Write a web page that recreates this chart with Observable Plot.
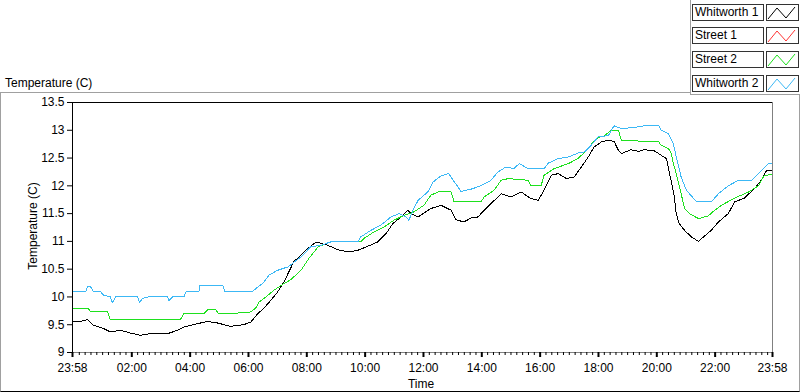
<!DOCTYPE html>
<html><head><meta charset="utf-8">
<script src="https://cdn.jsdelivr.net/npm/d3@7"></script>
<script src="https://cdn.jsdelivr.net/npm/@observablehq/plot@0.6"></script>
<style>
body{margin:0;background:#fff;font-family:"Liberation Sans",Arial,sans-serif;}
#wrap{position:relative;width:800px;height:392px;overflow:hidden;background:#fff;}
#wrap svg.chart{position:absolute;left:0;top:0;}
.ov{position:absolute;font-size:12px;color:#000;white-space:nowrap;line-height:14px;}
#panel{position:absolute;left:0;top:92px;width:798px;height:298px;border-top:1px solid #a0a0a0;border-left:1px solid #a0a0a0;border-right:1px solid #a0a0a0;border-bottom:1px solid #000;pointer-events:none;}
#legendBox{position:absolute;left:690px;top:0;width:109px;height:94px;border-left:1px solid #a0a0a0;border-bottom:1px solid #a0a0a0;background:#fff;}
.lgText{position:absolute;left:692px;width:68px;height:15px;border:1px solid #333;background:#fff;font-size:12px;line-height:15px;padding-left:2px;color:#000;}
.lgSw{position:absolute;left:766px;width:31px;height:15px;border:1px solid #333;background:#fff;}
</style></head><body><div id="wrap"></div><script>
// ---- data ----
const seriesNames = ["Whitworth 1", "Street 1", "Street 2", "Whitworth 2"];
const seriesColors = ["#000000", "#ff3434", "#1ee01e", "#3cb8f5"];

// minutes after 00:00 (start of record is 23:58 of the previous day = -2)
const w1Minutes = [-2,14,29,41,62,76,97,117,138,165,194,214,227,256,276,297,323,350,365,379,391,406,420,433,453,478,499,523,544,565,585,602,626,643,657,674,688,694,709,735,756,777,787,803,818,832,845,859,880,900,921,941,956,968,983,997,1014,1030,1045,1059,1071,1086,1100,1112,1121,1127,1147,1162,1174,1195,1209,1220,1224,1230,1236,1240,1246,1257,1271,1286,1296,1312,1327,1347,1360,1380,1401,1415,1426,1438];
const w1Temps = [9.55,9.56,9.59,9.49,9.43,9.37,9.40,9.35,9.31,9.35,9.34,9.40,9.46,9.52,9.56,9.53,9.47,9.50,9.55,9.70,9.79,9.94,10.09,10.27,10.63,10.84,10.99,10.93,10.85,10.81,10.84,10.90,10.99,11.14,11.32,11.44,11.56,11.50,11.44,11.59,11.65,11.56,11.39,11.35,11.42,11.44,11.56,11.68,11.86,11.80,11.89,11.77,11.74,11.92,12.19,12.22,12.13,12.16,12.34,12.52,12.70,12.79,12.82,12.80,12.64,12.58,12.65,12.62,12.65,12.63,12.55,12.49,12.31,12.07,11.80,11.50,11.32,11.20,11.08,11.00,11.08,11.20,11.35,11.50,11.71,11.78,11.95,12.10,12.28,12.28];

const s1Minutes = [];
const s1Temps = [];

const s2Minutes = [-2,31,35,70,76,220,227,268,276,293,297,338,365,375,381,400,412,433,447,468,484,503,523,529,591,597,618,639,659,680,700,721,735,750,777,783,838,845,865,880,894,935,941,962,968,989,1018,1038,1059,1069,1080,1092,1106,1121,1127,1204,1209,1224,1230,1234,1240,1250,1257,1267,1286,1306,1319,1333,1360,1389,1409,1421,1438];
const s2Temps = [9.79,9.79,9.73,9.73,9.59,9.59,9.70,9.70,9.77,9.77,9.71,9.71,9.73,9.80,9.90,10.03,10.12,10.24,10.31,10.48,10.69,10.90,10.97,10.99,10.99,11.05,11.17,11.26,11.38,11.47,11.53,11.65,11.83,11.89,11.89,11.71,11.71,11.80,11.92,12.10,12.13,12.10,12.00,12.00,12.19,12.31,12.40,12.49,12.67,12.79,12.87,12.90,13.00,13.00,12.82,12.79,12.73,12.67,12.58,12.40,12.22,11.86,11.59,11.50,11.41,11.46,11.56,11.65,11.78,11.89,12.00,12.19,12.20];

const w2Minutes = [-2,25,29,35,41,56,62,76,80,87,132,136,142,153,194,196,204,227,231,258,260,307,311,369,375,389,402,420,441,468,488,509,529,585,591,612,632,653,670,684,690,700,709,729,740,756,772,781,791,797,818,838,859,873,890,906,917,935,968,977,997,1018,1038,1051,1065,1080,1100,1112,1127,1154,1174,1204,1209,1224,1234,1240,1250,1261,1282,1312,1327,1347,1368,1395,1409,1430,1438];
const w2Temps = [10.09,10.09,10.19,10.19,10.09,10.09,10.03,10.00,9.90,10.00,10.00,9.90,9.97,10.00,10.00,9.93,10.00,10.00,10.09,10.09,10.21,10.21,10.10,10.10,10.15,10.24,10.39,10.48,10.54,10.72,10.90,10.93,10.99,10.99,11.08,11.20,11.29,11.44,11.50,11.44,11.38,11.59,11.74,11.89,12.07,12.18,12.22,12.10,11.98,11.90,11.94,12.00,12.10,12.25,12.34,12.31,12.40,12.31,12.31,12.41,12.49,12.52,12.59,12.61,12.73,12.89,12.90,13.08,13.03,13.05,13.08,13.08,13.00,12.94,12.76,12.52,12.16,11.92,11.71,11.71,11.86,12.00,12.10,12.10,12.22,12.40,12.40];

const yTicks = [9, 9.5, 10, 10.5, 11, 11.5, 12, 12.5, 13, 13.5];
const xTickMinutes = [-2, 120, 240, 360, 480, 600, 720, 840, 960, 1080, 1200, 1320, 1438];
const xTickLabels = ["23:58", "02:00", "04:00", "06:00", "08:00", "10:00", "12:00", "14:00", "16:00", "18:00", "20:00", "22:00", "23:58"];
const minorStepMinutes = 12;

// ---- build ----
const base = Date.UTC(2000, 0, 2, 0, 0);
const toDate = m => new Date(base + m * 60000);

const seriesMinutes = [w1Minutes, s1Minutes, s2Minutes, w2Minutes];
const seriesTemps = [w1Temps, s1Temps, s2Temps, w2Temps];
const rows = [];
seriesNames.forEach((name, k) => {
  seriesMinutes[k].forEach((m, i) => rows.push({series: name, time: toDate(m), temp: seriesTemps[k][i]}));
});

const majorDates = xTickMinutes.map(toDate);
const labelMap = new Map(xTickMinutes.map((m, i) => [+toDate(m), xTickLabels[i]]));
const minorDates = d3.range(minorStepMinutes, 1438, minorStepMinutes)
  .filter(m => m % 120 !== 0).map(toDate);
const xStart = toDate(xTickMinutes[0]);
const xEnd = toDate(xTickMinutes[xTickMinutes.length - 1]);

const chart = Plot.plot({
  width: 800,
  height: 392,
  marginLeft: 72,
  marginRight: 28,
  marginTop: 102,
  marginBottom: 40,
  style: {fontFamily: "'Liberation Sans', Arial, sans-serif", fontSize: "12px", color: "#000", background: "transparent", overflow: "visible"},
  x: {type: "utc", domain: [xStart, xEnd], label: null},
  y: {domain: [9, 13.5], label: null},
  color: {domain: seriesNames, range: seriesColors},
  marks: [
    Plot.line(rows, {x: "time", y: "temp", z: "series", stroke: "series", strokeWidth: 1, shapeRendering: "crispEdges"}),
    Plot.ruleY([13.5], {stroke: "#000"}),
    Plot.ruleY([9], {stroke: "#808080"}),
    Plot.ruleX([xEnd], {stroke: "#808080"}),
    Plot.ruleX([xStart], {stroke: "#000"}),
    Plot.axisY(yTicks, {tickSize: 5, tickPadding: 3, tickFormat: d => String(d), label: null, stroke: "#000"}),
    Plot.axisX(minorDates, {tickSize: 3, tickFormat: () => "", label: null, stroke: "#000"}),
    Plot.axisX(majorDates, {tickSize: 5, tickPadding: 6, strokeWidth: 2, tickFormat: d => labelMap.get(+d), label: null, stroke: "#000"})
  ]
});
chart.classList.add("chart");

const wrap = document.getElementById("wrap");
wrap.appendChild(chart);

const panel = document.createElement("div");
panel.id = "panel";
wrap.appendChild(panel);

function addText(txt, css) {
  const d = document.createElement("div");
  d.className = "ov";
  d.textContent = txt;
  Object.assign(d.style, css);
  wrap.appendChild(d);
  return d;
}
addText("Temperature (C)", {left: "5px", top: "76px"});
addText("Time", {left: "421px", top: "377px", transform: "translateX(-50%)"});
addText("Temperature (C)", {left: "33px", top: "226px", transform: "translate(-50%,-50%) rotate(-90deg)"});

const lb = document.createElement("div");
lb.id = "legendBox";
wrap.appendChild(lb);
const rowTops = [4, 27, 51, 75];
seriesNames.forEach((name, i) => {
  const t = document.createElement("div");
  t.className = "lgText";
  t.style.top = rowTops[i] + "px";
  t.textContent = name;
  wrap.appendChild(t);
  const s = document.createElement("div");
  s.className = "lgSw";
  s.style.top = rowTops[i] + "px";
  s.innerHTML = `<svg width="31" height="15"><polyline points="1,14 10,3 19,13 28,2" fill="none" stroke="${seriesColors[i]}" stroke-width="1"/></svg>`;
  wrap.appendChild(s);
});
</script></body></html>
